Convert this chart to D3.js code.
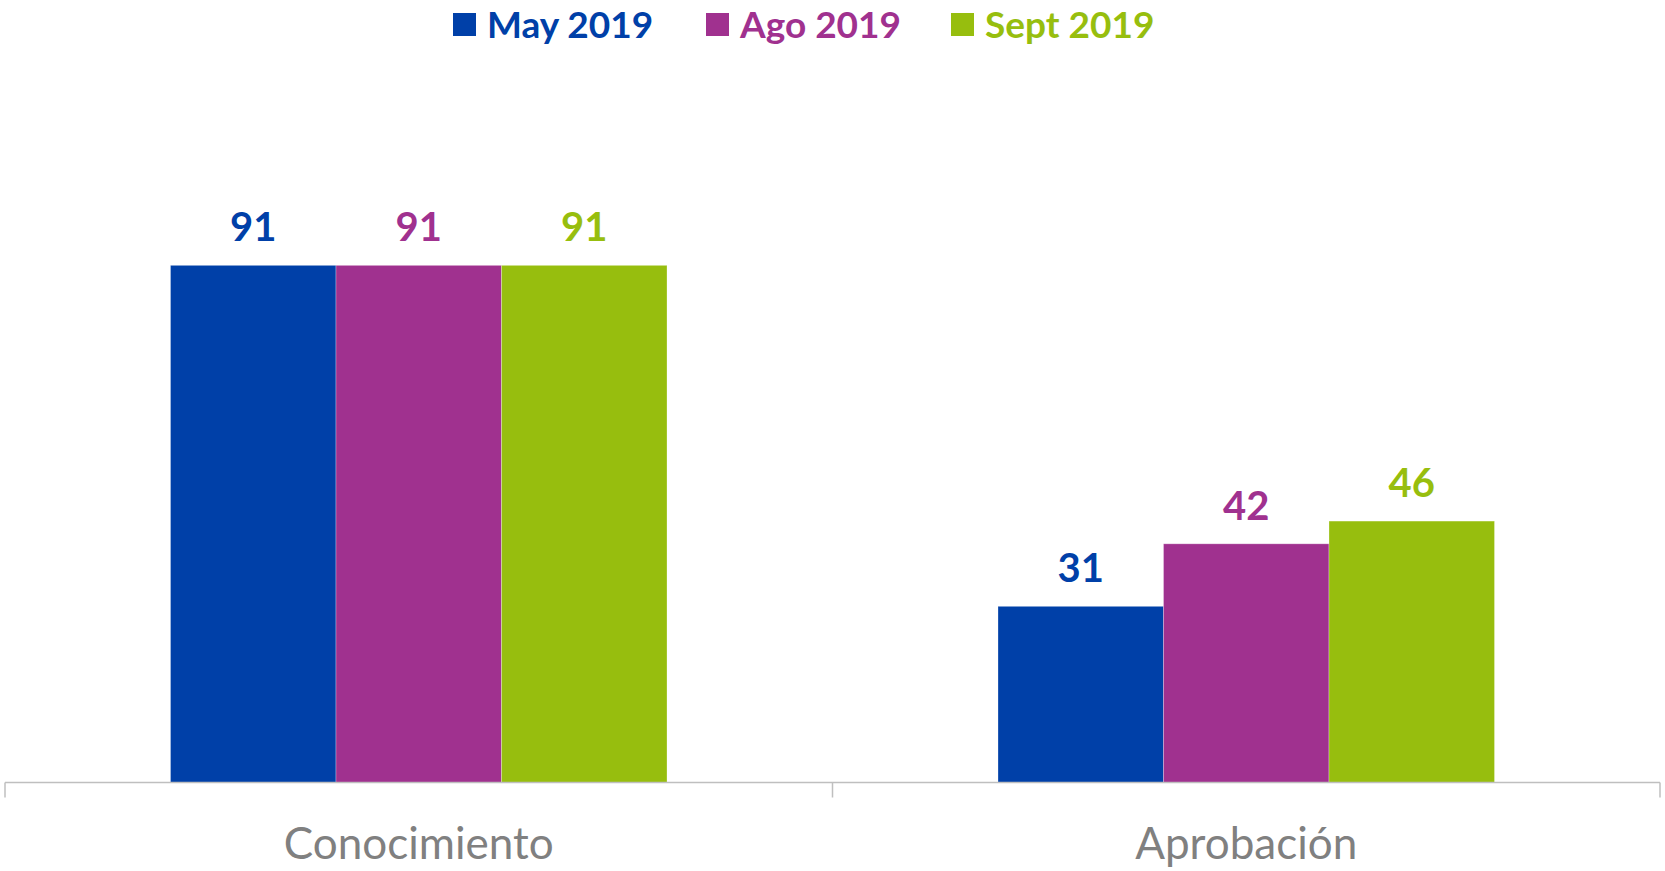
<!DOCTYPE html>
<html>
<head>
<meta charset="utf-8">
<script src="https://cdn.jsdelivr.net/npm/d3@7"></script>
<style>
  body { margin: 0; background: #fff; }
  svg { display: block; }
</style>
</head>
<body>
<div id="chart"></div>
<script>
let svgWidth = 1665;
let svgHeight = 871;

// data
let categories = ["Conocimiento", "Aprobación"];
let seriesNames = ["May 2019", "Ago 2019", "Sept 2019"];
let may2019 = [91, 31];
let ago2019 = [91, 42];
let sept2019 = [91, 46];
let colors = ["#0040A8", "#A0318F", "#97BE0E"];

let seriesValues = [may2019, ago2019, sept2019];

let svg = d3.select("#chart")
  .append("svg")
  .attr("width", svgWidth)
  .attr("height", svgHeight);

let axisY = 782.5;

// category scale
let x0 = d3.scaleBand()
  .domain(categories)
  .range([5, 1660])
  .padding(0);

let bw = x0.bandwidth();

// series scale inside each category
let x1 = d3.scaleBand()
  .domain(seriesNames)
  .range([bw * 0.2, bw * 0.8])
  .padding(0);

let y = d3.scaleLinear()
  .domain([0, 100])
  .range([axisY, axisY - 568.3]);

// bars
let groups = svg.selectAll("g.cat")
  .data(categories)
  .enter()
  .append("g")
  .attr("class", "cat")
  .attr("transform", d => `translate(${x0(d)},0)`);

groups.each(function(cat, ci) {
  let g = d3.select(this);
  let rows = seriesNames.map((s, si) => ({ s: s, v: seriesValues[si][ci], c: colors[si] }));

  g.selectAll("rect")
    .data(rows)
    .enter()
    .append("rect")
    .attr("x", d => x1(d.s))
    .attr("y", d => y(d.v))
    .attr("width", x1.bandwidth())
    .attr("height", d => axisY - y(d.v))
    .attr("fill", d => d.c)
    .attr("stroke", "#ffffff")
    .attr("stroke-opacity", 0.35)
    .attr("stroke-width", 0.8);

  g.selectAll("text.val")
    .data(rows)
    .enter()
    .append("text")
    .attr("class", "val")
    .attr("x", d => x1(d.s) + x1.bandwidth() / 2)
    .attr("y", d => y(d.v) - 24)
    .attr("text-anchor", "middle")
    .style("font-family", "Lato, 'Open Sans', sans-serif")
    .style("font-weight", "bold")
    .style("font-size", "40px")
    .attr("fill", d => d.c)
    .text(d => d.v);
});

// x axis
let bottomAxis = d3.axisBottom(x0)
  .tickSize(0)
  .tickFormat("");

let xAxis = svg.append("g")
  .attr("transform", `translate(0, ${axisY})`)
  .call(bottomAxis);

xAxis.select(".domain").remove();

xAxis.append("line")
  .attr("x1", 5).attr("x2", 1660)
  .attr("y1", 0).attr("y2", 0)
  .attr("stroke", "#BFBFBF")
  .attr("stroke-width", 1.5);

// boundary ticks between categories
let tickXs = [x0.range()[0]].concat(categories.map(c => x0(c) + bw));
xAxis.selectAll("line.sep")
  .data(tickXs)
  .enter()
  .append("line")
  .attr("class", "sep")
  .attr("x1", d => d).attr("x2", d => d)
  .attr("y1", 0).attr("y2", 15)
  .attr("stroke", "#BFBFBF")
  .attr("stroke-width", 1.5);

// category labels
svg.selectAll("text.cat")
  .data(categories)
  .enter()
  .append("text")
  .attr("class", "cat")
  .attr("x", d => x0(d) + bw / 2)
  .attr("y", 859)
  .attr("text-anchor", "middle")
  .style("font-family", "Lato, 'Open Sans', sans-serif")
  .style("font-size", "44px")
  .attr("fill", "#808080")
  .text(d => d);

// legend
let legendX = [453, 706, 951];
let legend = svg.selectAll("g.legend")
  .data(seriesNames)
  .enter()
  .append("g")
  .attr("class", "legend")
  .attr("transform", (d, i) => `translate(${legendX[i]}, 13)`);

legend.append("rect")
  .attr("width", 23)
  .attr("height", 23)
  .attr("fill", (d, i) => colors[i]);

legend.append("text")
  .attr("x", 34)
  .attr("y", 25)
  .style("font-family", "Lato, 'Open Sans', sans-serif")
  .style("font-weight", "bold")
  .style("font-size", "37px")
  .attr("fill", (d, i) => colors[i])
  .text(d => d);
</script>
</body>
</html>
